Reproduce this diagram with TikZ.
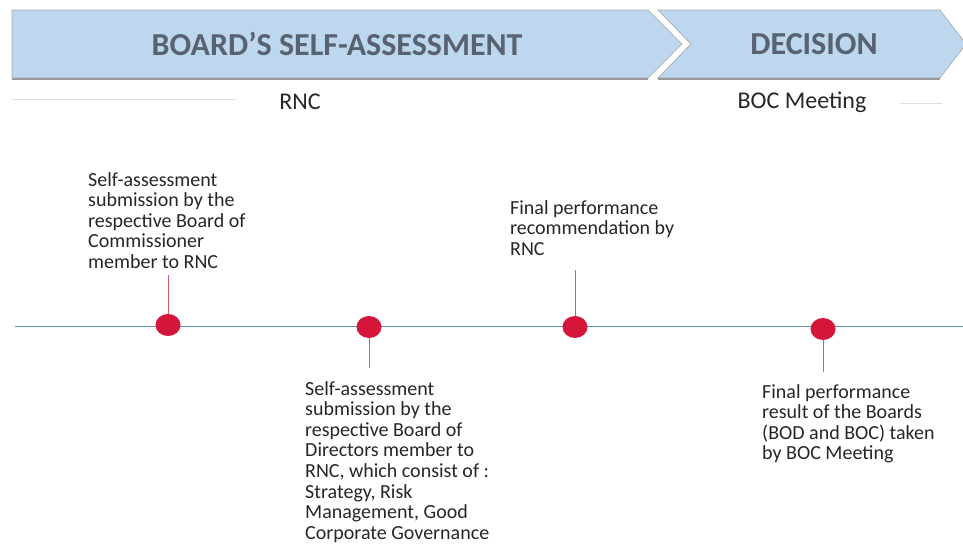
\documentclass[tikz,border=0pt]{standalone}
\usepackage{fontspec}
\setmainfont{Carlito}
\usetikzlibrary{shapes.geometric,positioning}
\definecolor{bandblue}{RGB}{189,215,238}
\definecolor{headgray}{RGB}{88,98,112}
\definecolor{lineblue}{RGB}{91,140,200}
\definecolor{dotred}{RGB}{212,22,58}
\definecolor{stemred}{RGB}{214,90,105}
\begin{document}
\begin{tikzpicture}
  [x=1pt,y=-1pt,every node/.style={inner sep=0pt},
   band/.style={fill=bandblue,draw=gray!70,line width=0.6pt},
   headtext/.style={font=\fontsize{32}{34}\selectfont\bfseries,text=headgray},
   subtext/.style={font=\fontsize{24}{26}\selectfont,text=black!85},
   dot/.style={ellipse,fill=dotred,minimum width=25pt,minimum height=22pt},
   stem/.style={draw=stemred,line width=0.9pt},
   label/.style={font=\fontsize{20}{20.6}\selectfont,text=black!85,align=left,anchor=north west}]
  \useasboundingbox (0,0) rectangle (963,544);

  % header chevrons
  \fill[band] (12,10) -- (648,10) -- (682,44) -- (648,78) -- (12,78) -- cycle;
  \fill[band] (658,10) -- (940,10) -- (966,44) -- (940,78) -- (658,78) -- (691,44) -- cycle;
  \draw[gray!80,line width=1.2pt] (12,79) -- (648,79) (658,79) -- (940,79);
  \node[headtext] (h1) at (337,44) {BOARD’S SELF-ASSESSMENT};
  \node[headtext] (h2) at (814,44) {DECISION};
  \node[subtext] (r1) at (300,102) {RNC};
  \node[subtext] (r2) at (802,102) {BOC Meeting};
  \draw[gray!25,line width=1pt] (12,99) -- (235,99) (900,103) -- (942,103);

  % timeline
  \coordinate (t0) at (15,326);
  \coordinate (t1) at (963,326);
  \draw[lineblue,line width=0.8pt] (t0) -- (t1);

  \node[dot] (d1) at (168,325) {};
  \node[dot] (d2) at (369,327) {};
  \node[dot] (d3) at (575,327) {};
  \node[dot] (d4) at (823,329) {};

  \coordinate (s1) at (168,275);
  \coordinate (s2) at (369,368);
  \coordinate (s3) at (575,270);
  \coordinate (s4) at (823,372);

  \foreach \from/\to in {d1.north/s1,d2.south/s2,d3.north/s3,d4.south/s4}
    \draw[stem] (\from) -- (\to);

  \node[label] (l1) at (88,172) {Self-assessment\\submission by the\\respective Board of\\Commissioner\\member to RNC};
  \node[label] (l2) at (305,381) {Self-assessment\\submission by the\\respective Board of\\Directors member to\\RNC, which consist of :\\Strategy, Risk\\Management, Good\\Corporate Governance};
  \node[label] (l3) at (510,200) {Final performance\\recommendation by\\RNC};
  \node[label] (l4) at (762,384) {Final performance\\result of the Boards\\(BOD and BOC) taken\\by BOC Meeting};

\end{tikzpicture}
\end{document}
